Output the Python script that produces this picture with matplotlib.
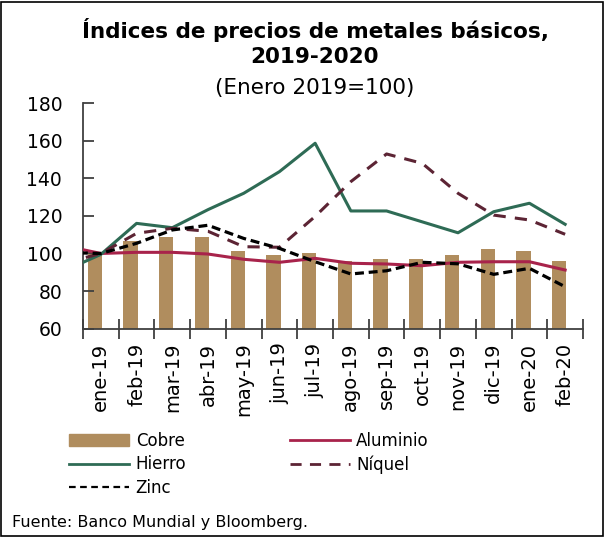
import matplotlib
matplotlib.use("Agg")
import matplotlib.pyplot as plt
import numpy as np
from matplotlib.patches import Rectangle
from matplotlib.lines import Line2D
from matplotlib.patches import Patch

plt.rcParams['font.family'] = ['DejaVu Sans']

categories = ["ene-19", "feb-19", "mar-19", "abr-19", "may-19", "jun-19", "jul-19",
              "ago-19", "sep-19", "oct-19", "nov-19", "dic-19", "ene-20", "feb-20"]

cobre = [100.1, 106.6, 108.9, 108.9, 101.3, 99.2, 100.1, 96.0, 96.9, 96.9, 99.0, 102.2, 101.3, 96.0]
# line series: first value is dic-18 (partly clipped at the left axis edge)
hierro   = [91.0, 99.5, 116.0, 113.7, 123.3, 132.0, 143.5, 158.6, 122.6, 122.6, 116.8, 111.0, 122.2, 126.7, 115.5]
aluminio = [104.0, 100.0, 100.6, 100.6, 99.7, 96.9, 95.3, 97.4, 94.8, 94.4, 93.5, 95.3, 95.6, 95.6, 91.2]
niquel   = [95.0, 100.0, 110.7, 113.4, 111.8, 103.6, 103.3, 119.7, 138.2, 152.9, 147.9, 132.0, 120.4, 117.8, 110.2]
zinc     = [100.5, 100.0, 105.4, 112.5, 115.0, 108.0, 102.7, 95.6, 89.1, 90.8, 95.3, 94.5, 88.9, 92.1, 82.3]

W, H = 605, 537
fig = plt.figure(figsize=(W / 100, H / 100), dpi=100)
ax = fig.add_axes([83 / W, 1 - 328.7 / H, 500 / W, 225.7 / H])

x = np.arange(len(categories))
xl = np.arange(-1, len(categories))

c_cobre = "#B08D5E"
c_hierro = "#2E6B55"
c_alum = "#A8234B"
c_niq = "#5C2434"

ax.bar(x - 0.17, np.array(cobre) - 60, bottom=60, width=0.4, color=c_cobre, zorder=1)
ax.plot(xl, aluminio, color=c_alum, lw=2.2, zorder=3)
ax.plot(xl, hierro, color=c_hierro, lw=2.2, zorder=3)
ax.plot(xl, niquel, color=c_niq, lw=2.2, ls=(0, (4, 3)), zorder=3)
ax.plot(xl, zinc, color="black", lw=2.3, ls=(0, (2.8, 1.5)), zorder=4)

ax.set_xlim(-0.5, len(categories) - 0.5)
ax.set_ylim(60, 180)
ax.set_yticks(np.arange(60, 181, 20))
ax.tick_params(axis='y', direction='in', length=8, width=1.3, color="#404040",
               labelsize=13.5, pad=15)
ax.set_xticks(x)
ax.set_xticklabels(categories, rotation=90, fontsize=14)
ax.set_xticks(np.arange(-0.5, len(categories), 1), minor=True)
ax.tick_params(axis='x', which='major', length=0, pad=10)
ax.tick_params(axis='x', which='minor', direction='inout', length=14, width=1.3, color="#404040")
for s in ["top", "right"]:
    ax.spines[s].set_visible(False)
for s in ["left", "bottom"]:
    ax.spines[s].set_color("#404040")
    ax.spines[s].set_linewidth(1.3)

fig.text(315 / W, 1 - 30 / H, "Índices de precios de metales básicos,", ha="center", va="center",
         fontsize=15.5, fontweight="bold")
fig.text(315 / W, 1 - 57 / H, "2019-2020", ha="center", va="center",
         fontsize=15.5, fontweight="bold")
fig.text(315 / W, 1 - 88 / H, "(Enero 2019=100)", ha="center", va="center", fontsize=15.5)

handles = [Patch(color=c_cobre),
           Line2D([], [], color=c_hierro, lw=2),
           Line2D([], [], color="black", lw=1.6, ls=(0, (3, 2))),
           Line2D([], [], color=c_alum, lw=2),
           Line2D([], [], color=c_niq, lw=2, ls=(0, (4, 3)))]
labels = ["Cobre", "Hierro", "Zinc", "Aluminio", "Níquel"]
fig.legend(handles, labels, ncol=2, loc="upper left", bbox_to_anchor=(69 / W, 1 - 432 / H),
           frameon=False, fontsize=12, handlelength=3.6, handletextpad=0.4,
           columnspacing=6.2, labelspacing=0.32, borderaxespad=0, borderpad=0)

fig.text(12 / W, 1 - 522 / H, "Fuente: Banco Mundial y Bloomberg.", ha="left", va="center", fontsize=11.5)

fig.patches.append(Rectangle((1 / W, 1 / H), (W - 3) / W, (H - 3) / H, transform=fig.transFigure,
                             fill=False, edgecolor="black", lw=1.2))

fig.savefig("out.png", dpi=100)
